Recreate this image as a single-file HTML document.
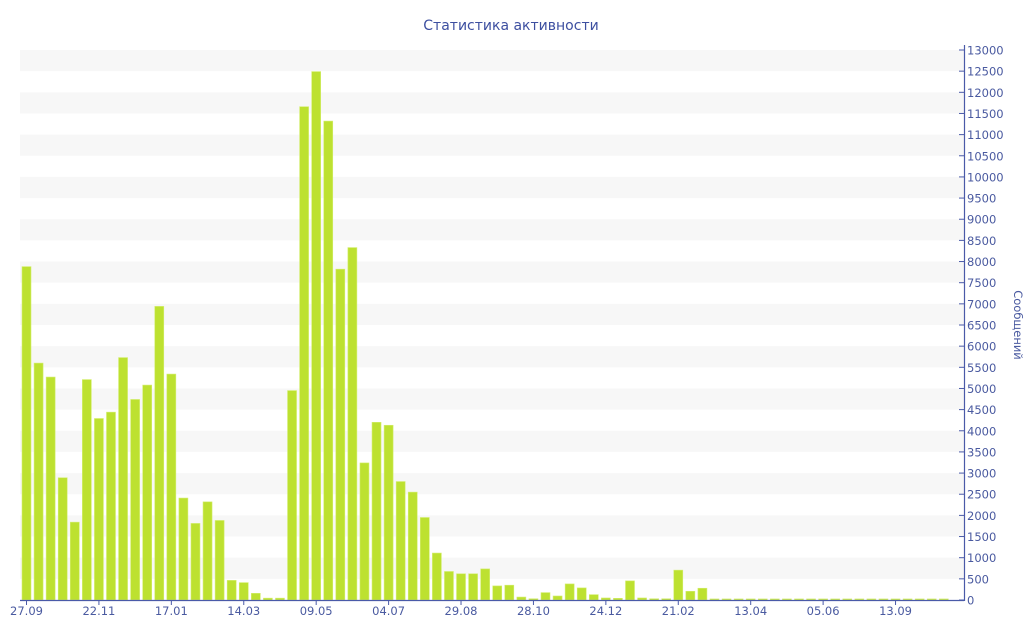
<!DOCTYPE html>
<html><head><meta charset="utf-8"><style>
html,body{margin:0;padding:0;background:#fff;}
svg{display:block;font-family:"DejaVu Sans","Liberation Sans",sans-serif;}
</style></head><body>
<svg id="c" width="1024" height="640" xmlns="http://www.w3.org/2000/svg">
<text x="511" y="30" text-anchor="middle" font-size="14" fill="#3d4fa0">Статистика активности</text>
<g id="bands"></g>
<g id="bars"></g>
<line x1="20" y1="600.5" x2="964" y2="600.5" stroke="#4a5aa8" stroke-width="1.2"/>
<line x1="964.5" y1="45" x2="964.5" y2="601" stroke="#4a5aa8" stroke-width="1.2"/>
<g id="yax" font-size="11.5" fill="#4a5aa0"></g>
<g id="xax" font-size="11.5" fill="#4a5aa0"></g>
<text transform="translate(1014,325) rotate(90)" text-anchor="middle" font-size="11.5" fill="#4a5aa0">Сообщений</text>
</svg>
<script>
var d=[7880,5600,5270,2890,1840,5210,4290,4440,5730,4740,5080,6940,5340,2410,1810,2320,1880,464,411,158,44,44,4950,11660,12490,11320,7820,8330,3240,4200,4130,2800,2550,1950,1110,674,620,620,735,333,350,70,30,175,95,380,286,127,48,40,452,48,30,30,706,206,278];
while(d.length<77)d.push(25);
var ns="http://www.w3.org/2000/svg";
function el(p,t,a,txt){var e=document.createElementNS(ns,t);for(var k in a)e.setAttribute(k,a[k]);if(txt!=null)e.textContent=txt;document.getElementById(p).appendChild(e);}
function Y(v){return 600-v*550/13000;}
for(var v=12500;v>=0;v-=1000){el("bands","rect",{x:20,y:Y(v+500),width:944,height:Y(v)-Y(v+500),fill:"#f7f7f7"});}
for(var i=0;i<77;i++){var x=22+i*12.07,y=Y(d[i]);el("bars","rect",{x:x,y:y,width:9,height:600-y,fill:"#bde130",stroke:"#d4ee70","stroke-width":0.6});}
for(var v=0;v<=13000;v+=500){var y=Y(v);el("yax","line",{x1:959,y1:y,x2:964,y2:y,stroke:"#4a5aa8"});el("yax","text",{x:967,y:y+4.5},v);}
var L=["27.09","22.11","17.01","14.03","09.05","04.07","29.08","28.10","24.12","21.02","13.04","05.06","13.09"];
for(var j=0;j<L.length;j++){var cx=26.5+j*6*12.07;el("xax","line",{x1:cx,y1:600,x2:cx,y2:605,stroke:"#4a5aa8"});el("xax","text",{x:cx,y:615,"text-anchor":"middle"},L[j]);}
</script>
</body></html>
